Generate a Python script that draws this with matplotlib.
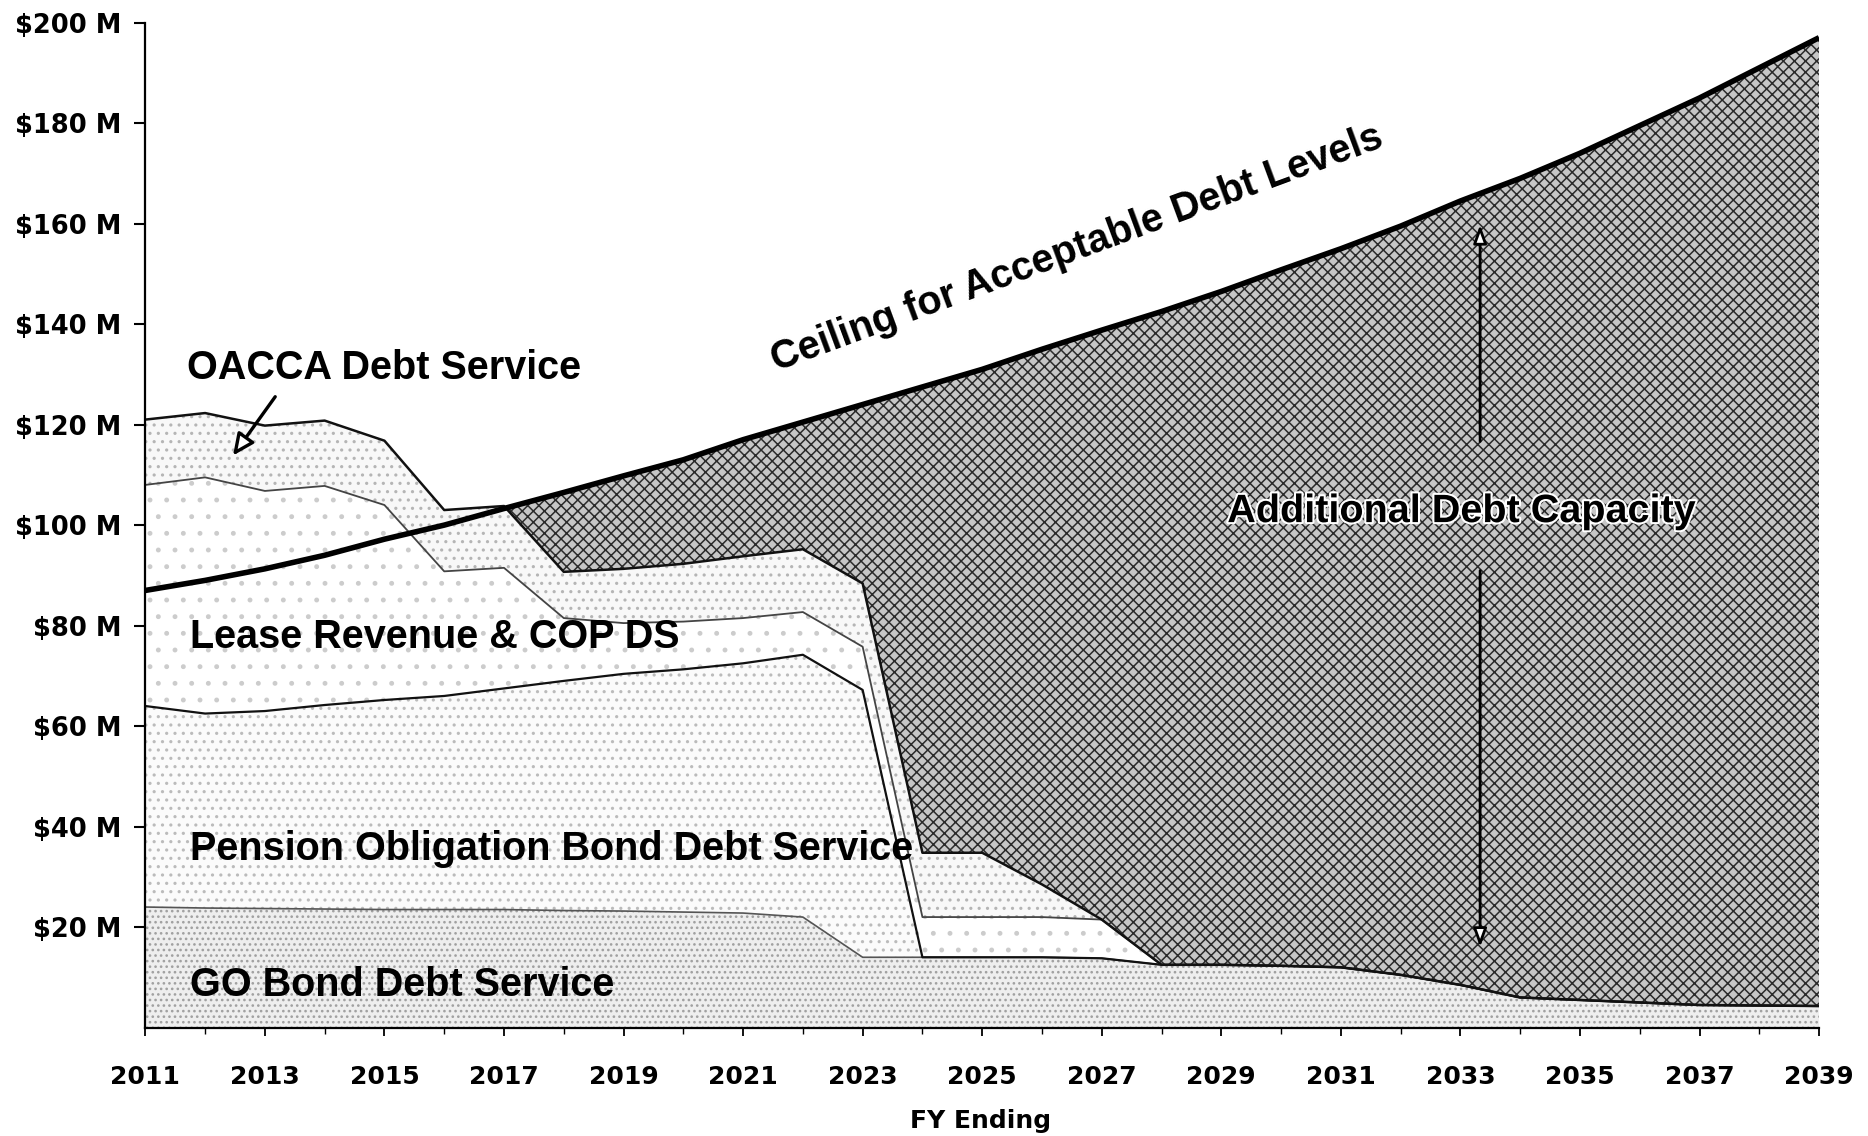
import matplotlib
matplotlib.use('Agg')
import matplotlib.pyplot as plt
import matplotlib.patheffects as pe
import numpy as np

# ---------------- data ----------------
years = list(range(2011, 2040))

go_bond = [24.0, 23.8, 23.7, 23.6, 23.5, 23.5, 23.5, 23.3, 23.2, 23.0, 22.8, 22.0,
           14.0, 14.0, 14.0, 14.0, 13.8, 12.5, 12.5, 12.3, 12.0, 10.5, 8.5, 6.0,
           5.5, 5.0, 4.5, 4.4, 4.3]
pension = [40.0, 38.7, 39.3, 40.6, 41.7, 42.5, 44.0, 45.7, 47.2, 48.3, 49.7, 52.2,
           53.2] + [0.0] * 16
lease_cop = [44.0, 47.0, 43.8, 43.6, 38.8, 24.8, 24.0, 12.5, 10.1, 9.5, 9.0, 8.5,
             8.6, 8.0, 8.0, 8.0, 7.7] + [0.0] * 12
oacca = [13.0, 12.8, 13.0, 13.0, 12.8, 12.2, 12.3, 9.2, 10.8, 11.5, 12.3, 12.5,
         12.6, 12.8, 12.8, 6.5] + [0.0] * 13
ceiling = [87.0, 89.0, 91.3, 94.0, 97.2, 100.0, 103.3, 106.5, 109.8, 113.0, 117.0,
           120.5, 124.0, 127.5, 131.0, 135.0, 138.8, 142.5, 146.5, 150.8, 155.0,
           159.5, 164.5, 169.0, 174.0, 179.5, 185.0, 191.0, 197.0]

y_ticks = list(range(20, 201, 20))
y_tick_labels = [f"${v} M" for v in y_ticks]
x_ticks = list(range(2011, 2040, 2))
x_tick_labels = [str(v) for v in x_ticks]

# ---------------- figure ----------------
plt.rcParams['hatch.linewidth'] = 1.1
fig = plt.figure(figsize=(18.68, 11.36), dpi=100)
ax = fig.add_axes([0.0778, 0.0954, 0.896, 0.8847])

x = np.array(years, dtype=float)
layers = np.array([go_bond, pension, lease_cop, oacca])
cum = np.cumsum(layers, axis=0)
total = cum[-1]
ceil = np.array(ceiling)

styles = [
    dict(facecolor='#eeeeee', edgecolor='#a0a0a0', hatch='...'),
    dict(facecolor='#fbfbfb', edgecolor='#bbbbbb', hatch='..'),
    dict(facecolor='#ffffff', edgecolor='#cccccc', hatch='.'),
    dict(facecolor='#f8f8f8', edgecolor='#b5b5b5', hatch='..'),
]
base = np.zeros_like(x)
for i in range(len(layers)):
    ax.fill_between(x, base, cum[i], linewidth=0, zorder=1, **styles[i])
    base = cum[i]

# additional capacity (cross-hatched)
ax.fill_between(x, total, ceil, where=ceil >= total, interpolate=True,
                facecolor='#c6c6c6', edgecolor='#2b2b2b', hatch='xxx',
                linewidth=0, zorder=2)

# layer boundary lines
line_styles = [dict(color='#555555', lw=1.2), dict(color='#111111', lw=1.6),
               dict(color='#444444', lw=1.3), dict(color='#111111', lw=1.8)]
for i in range(len(layers)):
    ax.plot(x, cum[i], zorder=3, **line_styles[i])

# ceiling line
ax.plot(x, ceil, color='black', lw=4.0, zorder=4, solid_capstyle='butt')

# ---------------- axes ----------------
ax.set_xlim(2011, 2039)
ax.set_ylim(0, 200)
for s in ['top', 'right']:
    ax.spines[s].set_visible(False)
for s in ['left', 'bottom']:
    ax.spines[s].set_linewidth(1.6)
    ax.spines[s].set_color('black')
    ax.spines[s].set_zorder(6)

ytick_font = dict(family='DejaVu Sans', weight='bold', size=18.5)
xtick_font = dict(family='DejaVu Sans', weight='bold', size=18)
ax.set_yticks(y_ticks)
ax.set_yticklabels(y_tick_labels, fontdict=ytick_font)
ax.set_xticks(x_ticks)
ax.set_xticklabels(x_tick_labels, fontdict=xtick_font)
ax.set_xticks(years, minor=True)
ax.tick_params(axis='y', length=8, width=1.5, pad=9)
ax.tick_params(axis='x', which='major', length=6, width=1.3, pad=21)
ax.tick_params(axis='x', which='minor', length=4, width=1.0)

fig.text(0.5249, 1 - 941 / 954, 'FY Ending', ha='center', va='center',
         family='DejaVu Sans', weight='bold', size=18)

# ---------------- annotations ----------------
lab = dict(family='Liberation Sans', weight='bold', size=28.5, zorder=7)
ax.text(2011.70, 129.1, 'OACCA Debt Service', ha='left', va='baseline', **lab)
ax.text(2011.74, 75.5, 'Lease Revenue & COP DS', ha='left', va='baseline', **lab)
ax.text(2011.74, 33.4, 'Pension Obligation Bond Debt Service', ha='left',
        va='baseline', **lab)
ax.text(2011.74, 6.2, 'GO Bond Debt Service', ha='left', va='baseline', **lab)
ax.text(2021.55, 130.5, 'Ceiling for Acceptable Debt Levels', ha='left',
        va='baseline', rotation=20.3, rotation_mode='anchor', **lab)
ax.text(2029.1, 100.6, 'Additional Debt Capacity', ha='left', va='baseline',
        path_effects=[pe.withStroke(linewidth=3, foreground='white')], **lab)

ax.annotate('', xy=(2012.44, 113.4), xytext=(2013.2, 126.0),
            arrowprops=dict(arrowstyle='-|>,head_length=1.3,head_width=0.6',
                            fc='white', ec='black', lw=2.4), zorder=7)
ax.annotate('', xy=(2033.33, 160.3), xytext=(2033.33, 116.1),
            arrowprops=dict(arrowstyle='-|>,head_length=1.1,head_width=0.4',
                            fc='white', ec='black', lw=2.0), zorder=7)
ax.annotate('', xy=(2033.33, 15.5), xytext=(2033.33, 91.5),
            arrowprops=dict(arrowstyle='-|>,head_length=1.1,head_width=0.4',
                            fc='white', ec='black', lw=2.0), zorder=7)

fig.savefig('out.png', dpi=100, facecolor='white')
